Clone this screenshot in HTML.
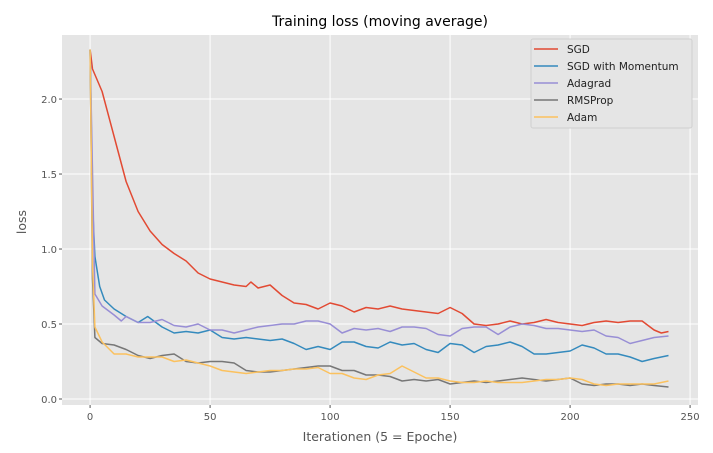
<!DOCTYPE html>
<html><head><meta charset="utf-8"><style>
body{margin:0;background:#fff;}
svg{display:block;font-family:"DejaVu Sans","Liberation Sans",sans-serif;}
</style></head><body>
<svg id="chart" width="713" height="453">
<text x="380" y="26" text-anchor="middle" font-size="14" fill="#000">Training loss (moving average)</text>
<rect x="62" y="35" width="636" height="370" fill="#e5e5e5"/>
<g id="grid"></g><g id="series"></g><g id="ticks"></g>
<text x="380" y="441" text-anchor="middle" font-size="12.5" fill="#555">Iterationen (5 = Epoche)</text>
<text transform="translate(26,222) rotate(-90)" text-anchor="middle" font-size="12.5" fill="#555">loss</text>
<g id="legend"></g>
</svg>
<script>
const xTicks=[0,50,100,150,200,250];
const yTicks=[0.0,0.5,1.0,1.5,2.0];
const seriesNames=["SGD","SGD with Momentum","Adagrad","RMSProp","Adam"];
const seriesColors=["#e24a33","#348abd","#988ed5","#777777","#fbc15e"];
const xsSGD=[0,1,5,10,15,20,25,30,35,40,45,50,55,60,65,67,70,75,80,85,90,95,100,105,110,115,120,125,130,135,140,145,150,155,160,165,170,175,180,185,190,195,200,205,210,215,220,225,230,235,238,241];
const ysSGD=[2.33,2.2,2.05,1.75,1.45,1.25,1.12,1.03,0.97,0.92,0.84,0.80,0.78,0.76,0.75,0.78,0.74,0.76,0.69,0.64,0.63,0.60,0.64,0.62,0.58,0.61,0.60,0.62,0.60,0.59,0.58,0.57,0.61,0.57,0.50,0.49,0.50,0.52,0.50,0.51,0.53,0.51,0.50,0.49,0.51,0.52,0.51,0.52,0.52,0.46,0.44,0.45];
const xsMom=[0,1,2,4,6,10,15,20,24,30,35,40,45,50,55,60,65,70,75,80,85,90,95,100,105,110,115,120,125,130,135,140,145,150,155,160,165,170,175,180,185,190,195,200,205,210,215,220,225,230,235,241];
const ysMom=[2.33,1.3,0.95,0.75,0.66,0.60,0.55,0.51,0.55,0.48,0.44,0.45,0.44,0.46,0.41,0.40,0.41,0.40,0.39,0.40,0.37,0.33,0.35,0.33,0.38,0.38,0.35,0.34,0.38,0.36,0.37,0.33,0.31,0.37,0.36,0.31,0.35,0.36,0.38,0.35,0.30,0.30,0.31,0.32,0.36,0.34,0.30,0.30,0.28,0.25,0.27,0.29];
const xsAda=[0,2,5,10,13,15,20,25,30,35,40,45,50,55,60,65,70,75,80,85,90,95,100,105,110,115,120,125,130,135,140,145,150,155,160,165,170,175,180,185,190,195,200,205,210,215,220,225,230,235,241];
const ysAda=[2.33,0.70,0.62,0.56,0.52,0.55,0.51,0.51,0.53,0.49,0.48,0.50,0.46,0.46,0.44,0.46,0.48,0.49,0.50,0.50,0.52,0.52,0.50,0.44,0.47,0.46,0.47,0.45,0.48,0.48,0.47,0.43,0.42,0.47,0.48,0.48,0.43,0.48,0.50,0.49,0.47,0.47,0.46,0.45,0.46,0.42,0.41,0.37,0.39,0.41,0.42];
const xsRms=[0,1,2,5,10,15,20,25,30,35,40,45,50,55,60,65,70,75,80,85,90,95,100,105,110,115,120,125,130,135,140,145,150,155,160,165,170,175,180,185,190,195,200,205,210,215,220,225,230,235,241];
const ysRms=[2.33,0.8,0.41,0.37,0.36,0.33,0.29,0.27,0.29,0.30,0.25,0.24,0.25,0.25,0.24,0.19,0.18,0.18,0.19,0.20,0.21,0.22,0.22,0.19,0.19,0.16,0.16,0.15,0.12,0.13,0.12,0.13,0.10,0.11,0.12,0.11,0.12,0.13,0.14,0.13,0.12,0.13,0.14,0.10,0.09,0.10,0.10,0.09,0.10,0.09,0.08];
const xsAdam=[0,1,2,5,10,15,20,25,30,35,40,45,50,55,60,65,70,75,80,85,90,95,100,105,110,115,120,125,130,135,140,145,150,155,160,165,170,175,180,185,190,195,200,205,210,215,220,225,230,235,241];
const ysAdam=[2.33,0.9,0.48,0.38,0.30,0.30,0.28,0.28,0.28,0.25,0.26,0.24,0.22,0.19,0.18,0.17,0.18,0.19,0.19,0.20,0.20,0.21,0.17,0.17,0.14,0.13,0.16,0.17,0.22,0.18,0.14,0.14,0.12,0.11,0.11,0.12,0.11,0.11,0.11,0.12,0.13,0.13,0.14,0.13,0.10,0.09,0.10,0.10,0.10,0.10,0.12];
const seriesX=[xsSGD,xsMom,xsAda,xsRms,xsAdam];
const seriesY=[ysSGD,ysMom,ysAda,ysRms,ysAdam];
const slugs=["sgd","sgd-momentum","adagrad","rmsprop","adam"];

const NS="http://www.w3.org/2000/svg";
const X0=62,X1=698,Y0=35,Y1=405;
const xMin=-11.7,xMax=253.3,yMin=-0.04,yMax=2.427;
function sx(v){return X0+(v-xMin)/(xMax-xMin)*(X1-X0);}
function sy(v){return Y1-(v-yMin)/(yMax-yMin)*(Y1-Y0);}
function mk(t,a,p){const e=document.createElementNS(NS,t);for(const k in a)e.setAttribute(k,a[k]);p.appendChild(e);return e;}
const grid=document.getElementById("grid"),ticks=document.getElementById("ticks"),ser=document.getElementById("series"),leg=document.getElementById("legend");
xTicks.forEach(t=>{
  const l=mk("line",{x1:sx(t),x2:sx(t),y1:Y0,y2:Y1,stroke:"#fff","stroke-width":1},grid);
  
  
  mk("line",{x1:sx(t),x2:sx(t),y1:Y1,y2:Y1+3,stroke:"#555"},ticks);
  const tx=mk("text",{x:sx(t),y:Y1+15,"text-anchor":"middle","font-size":"10",fill:"#555"},ticks);
  tx.textContent=t;
  
  
});
yTicks.forEach(t=>{
  const l=mk("line",{x1:X0,x2:X1,y1:sy(t),y2:sy(t),stroke:"#fff","stroke-width":1},grid);
  
  
  mk("line",{x1:X0-3,x2:X0,y1:sy(t),y2:sy(t),stroke:"#555"},ticks);
  const tx=mk("text",{x:X0-5,y:sy(t)+4,"text-anchor":"end","font-size":"10",fill:"#555"},ticks);
  tx.textContent=t.toFixed(1);
  
  
});
seriesY.forEach((ys,i)=>{
  const xs=seriesX[i];
  const d=ys.map((v,j)=>(j?"L":"M")+sx(xs[j]).toFixed(1)+","+sy(v).toFixed(1)).join("");
  const p=mk("path",{d:d,fill:"none",stroke:seriesColors[i],"stroke-width":1.5,"stroke-linejoin":"round"},ser);
  
  
});
const lb=mk("rect",{x:531,y:39,width:161,height:89,rx:2,fill:"#e5e5e5",stroke:"#d0d0d0"},leg);


seriesNames.forEach((n,i)=>{
  const y=49+i*17;
  const g=mk("g",{},leg);
  
  
  mk("line",{x1:534,x2:558,y1:y,y2:y,stroke:seriesColors[i],"stroke-width":1.5},g);
  const t=mk("text",{x:567,y:y+4,"font-size":"10.5",fill:"#222"},g);
  t.textContent=n;
});
</script>
</body></html>
